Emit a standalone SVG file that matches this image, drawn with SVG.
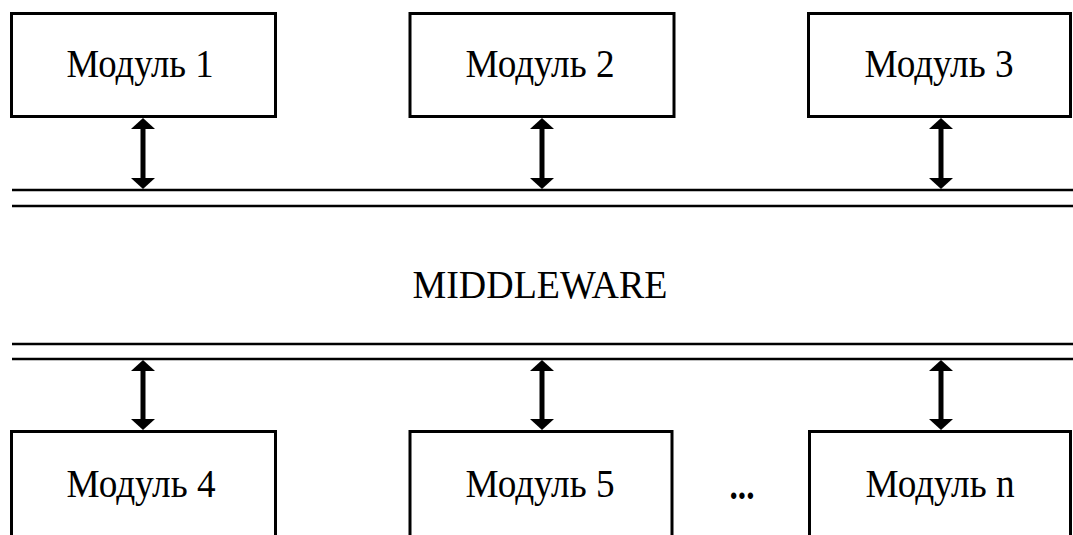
<svg xmlns="http://www.w3.org/2000/svg" width="1073" height="535" viewBox="0 0 1073 535">
<style>
.box{fill:#fff;stroke:#000;stroke-width:3}
.bus{stroke:#000;stroke-width:2.5}
.arr{stroke:#000;stroke-width:5;marker-start:url(#ah);marker-end:url(#ah)}
.t{font-family:"Liberation Serif","Times New Roman",serif;font-size:39px;fill:#000;text-anchor:middle}
</style>
<defs>
<marker id="ah" viewBox="0 0 11 24" refX="2" refY="12" markerWidth="11" markerHeight="24" markerUnits="userSpaceOnUse" orient="auto-start-reverse">
<path d="M0,0 L11,12 L0,24 Z" fill="#000"/>
</marker>
</defs>
<rect width="1073" height="535" fill="#fff"/>
<g id="bus-top">
<line class="bus" x1="12" y1="190" x2="1073" y2="190"/>
<line class="bus" x1="12" y1="206" x2="1073" y2="206"/>
</g>
<g id="bus-bottom">
<line class="bus" x1="12" y1="344" x2="1073" y2="344"/>
<line class="bus" x1="12" y1="359" x2="1073" y2="359"/>
</g>
<g id="middleware">
<text class="t" x="540" y="298" textLength="255" lengthAdjust="spacingAndGlyphs">MIDDLEWARE</text>
</g>
<g id="connectors">
<line class="arr" x1="143" y1="127" x2="143" y2="180"/>
<line class="arr" x1="542" y1="127" x2="542" y2="180"/>
<line class="arr" x1="941" y1="127" x2="941" y2="180"/>
<line class="arr" x1="143" y1="369" x2="143" y2="421"/>
<line class="arr" x1="542" y1="369" x2="542" y2="421"/>
<line class="arr" x1="941" y1="369" x2="941" y2="421"/>
</g>
<g id="m1"><rect class="box" x="11.5" y="13.5" width="264" height="103"/><text class="t" x="140" y="77" textLength="147" lengthAdjust="spacingAndGlyphs">Модуль 1</text></g>
<g id="m2"><rect class="box" x="410" y="13.5" width="264" height="103"/><text class="t" x="540" y="77" textLength="149" lengthAdjust="spacingAndGlyphs">Модуль 2</text></g>
<g id="m3"><rect class="box" x="808.5" y="13.5" width="262" height="103"/><text class="t" x="939" y="77" textLength="149" lengthAdjust="spacingAndGlyphs">Модуль 3</text></g>
<g id="m4"><rect class="box" x="11.5" y="431.5" width="264" height="110"/><text class="t" x="141" y="497" textLength="149" lengthAdjust="spacingAndGlyphs">Модуль 4</text></g>
<g id="m5"><rect class="box" x="410" y="431.5" width="262" height="110"/><text class="t" x="540" y="497" textLength="149" lengthAdjust="spacingAndGlyphs">Модуль 5</text></g>
<g id="mn"><rect class="box" x="809.5" y="431.5" width="261" height="110"/><text class="t" x="940" y="497" textLength="149" lengthAdjust="spacingAndGlyphs">Модуль n</text></g>
<g id="ellipsis"><text class="t" x="742" y="499" style="font-weight:bold" textLength="25" lengthAdjust="spacingAndGlyphs">...</text></g>
</svg>
